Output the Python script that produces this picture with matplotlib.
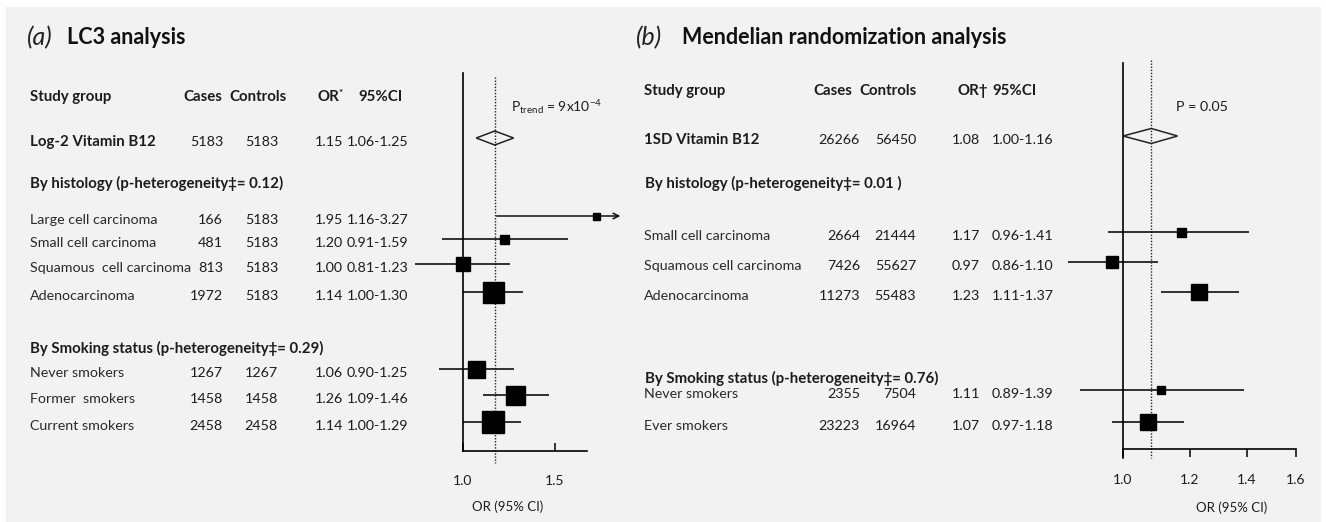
import numpy as np
import matplotlib
matplotlib.use('Agg')
import matplotlib.pyplot as plt
from matplotlib.patches import Rectangle, Polygon
from matplotlib.ticker import NullLocator, FixedLocator, FixedFormatter

plt.rcParams['font.family'] = ['Lato', 'DejaVu Sans']
plt.rcParams['mathtext.fontset'] = 'custom'
plt.rcParams['mathtext.rm'] = 'Lato'
plt.rcParams['mathtext.it'] = 'Lato:italic'

# ----------------- Data -----------------

# (a) LC3 analysis
a_hist_head = 'By histology (p-heterogeneity\u2021= 0.12)'
a_smok_head = 'By Smoking status (p-heterogeneity\u2021= 0.29)'
a_groups = ['Log-2 Vitamin B12', 'Large cell carcinoma', 'Small cell carcinoma',
            'Squamous  cell carcinoma', 'Adenocarcinoma',
            'Never smokers', 'Former  smokers', 'Current smokers']
a_cases = [5183, 166, 481, 813, 1972, 1267, 1458, 2458]
a_controls = [5183, 5183, 5183, 5183, 5183, 1267, 1458, 2458]
a_or = [1.15, 1.95, 1.20, 1.00, 1.14, 1.06, 1.26, 1.14]
a_lo = [1.06, 1.16, 0.91, 0.81, 1.00, 0.90, 1.09, 1.00]
a_hi = [1.25, 3.27, 1.59, 1.23, 1.30, 1.25, 1.46, 1.29]
a_ticks = [1.0, 1.5]
a_ptext = r'P$_{\mathrm{trend}}$ = 9x10$^{-4}$'

# (b) Mendelian randomization analysis
b_hist_head = 'By histology (p-heterogeneity\u2021= 0.01 )'
b_smok_head = 'By Smoking status (p-heterogeneity\u2021= 0.76)'
b_groups = ['1SD Vitamin B12', 'Small cell carcinoma', 'Squamous cell carcinoma',
            'Adenocarcinoma', 'Never smokers', 'Ever smokers']
b_cases = [26266, 2664, 7426, 11273, 2355, 23223]
b_controls = [56450, 21444, 55627, 55483, 7504, 16964]
b_or = [1.08, 1.17, 0.97, 1.23, 1.11, 1.07]
b_lo = [1.00, 0.96, 0.86, 1.11, 0.89, 0.97]
b_hi = [1.16, 1.41, 1.10, 1.37, 1.39, 1.18]
b_ticks = [1.0, 1.2, 1.4, 1.6]
b_ptext = 'P = 0.05'

# ----------------- Layout (pixels) -----------------
W, H = 1326, 522
TXT = '#1c1c1c'
FS = 10.3      # regular text
FSB = 10.8     # bold text

a_rows = [138, 216, 239, 264, 292, 369, 395, 422]     # first row is the pooled diamond
a_box = [0, 7, 9, 14, 21, 17, 19, 23]                  # box sizes in px
a_box_max = 1.80                                       # large cell box sits at the axis break
a_arrow_end = 2.0

b_rows = [136, 232, 262, 292, 390, 422]
b_box = [0, 9, 12, 16, 8, 16]

fig = plt.figure(figsize=(W / 100, H / 100), dpi=100)
fig.patch.set_facecolor('white')
fig.patches.append(Rectangle((6 / W, 0), (1320 - 6) / W, (H - 7) / H,
                             transform=fig.transFigure, color='#f2f2f2', zorder=-10))


def put(x, y, s, ha='left', size=FS, weight='normal', **kw):
    fig.text(x / W, 1 - y / H, s, ha=ha, va='center', size=size,
             weight=weight, color=kw.pop('color', TXT), **kw)


def forest_axes(left_px, right_px, one_px, px_per_ln):
    ax = fig.add_axes([left_px / W, 0, (right_px - left_px) / W, 1])
    ax.set_xscale('log')
    ax.set_xlim(np.exp((left_px - one_px) / px_per_ln),
                np.exp((right_px - one_px) / px_per_ln))
    ax.set_ylim(H, 0)
    ax.patch.set_alpha(0)
    for s in ['top', 'right']:
        ax.spines[s].set_visible(False)
    ax.yaxis.set_major_locator(NullLocator())
    ax.yaxis.set_minor_locator(NullLocator())
    ax.xaxis.set_minor_locator(NullLocator())
    return ax


def draw_diamond(ax, o, lo, hi, y, h=7):
    ax.add_patch(Polygon([(lo, y), (o, y - h), (hi, y), (o, y + h)], closed=True,
                         facecolor='none', edgecolor='#222222', lw=1.1, zorder=3))


# ----------------- Panel (a) -----------------
put(27, 38, '(a)', size=18, style='italic', color='#222222')
put(67, 38, 'LC3 analysis', size=15.5, weight='bold', color='#111111')

hy = 97
put(30, hy, 'Study group', size=FSB, weight='bold')
put(183, hy, 'Cases', size=FSB, weight='bold')
put(229, hy, 'Controls', size=FSB, weight='bold')
put(318, hy, 'OR', size=FSB, weight='bold')
put(339, hy - 4, '*', size=7, weight='bold')
put(358, hy, '95%CI', size=FSB, weight='bold')

put(30, 183, a_hist_head, size=FSB, weight='bold')
put(30, 348, a_smok_head, size=FSB, weight='bold')

for i, g in enumerate(a_groups):
    ty = a_rows[i] + 4
    if i == 0:
        put(30, ty, g, size=FSB, weight='bold')
    else:
        put(30, ty, g, color='#2a2a2a')
    put(223, ty, str(a_cases[i]), ha='right')
    put(278, ty, str(a_controls[i]), ha='right')
    put(343, ty, f'{a_or[i]:.2f}', ha='right')
    put(347, ty, f'{a_lo[i]:.2f}-{a_hi[i]:.2f}')

axa = forest_axes(400, 640, 463, 227)
axa.spines['bottom'].set_position(('data', 451))
axa.spines['bottom'].set_bounds(1.0, 1.73)
axa.spines['left'].set_position(('data', 1.0))
axa.spines['left'].set_bounds(73, 451)
axa.xaxis.set_major_locator(FixedLocator(a_ticks))
axa.xaxis.set_major_formatter(FixedFormatter([f'{t:.1f}' for t in a_ticks]))
axa.tick_params(axis='x', direction='in', length=6, width=1.1, pad=17,
                labelsize=10, labelcolor=TXT)
for s in ['bottom', 'left']:
    axa.spines[s].set_linewidth(1.2)

axa.vlines(a_or[0], 77, 463, colors='#222222', linestyles=(0, (1.0, 1.2)), lw=1.0, zorder=2)
draw_diamond(axa, a_or[0], a_lo[0], a_hi[0], a_rows[0])
for i in range(1, len(a_groups)):
    y = a_rows[i]
    if a_hi[i] > a_arrow_end:
        axa.annotate('', xy=(a_arrow_end, y), xytext=(a_lo[i], y),
                     arrowprops=dict(arrowstyle='->', lw=1.1, color='#111111',
                                     shrinkA=0, shrinkB=0))
    else:
        axa.hlines(y, a_lo[i], a_hi[i], colors='#111111', lw=1.2)
    axa.plot(min(a_or[i], a_box_max), y, marker='s', ms=a_box[i] * 0.72,
             color='black', mec='black', zorder=4)

put(511, 107, a_ptext, size=10)
put(508, 507, 'OR (95% CI)', ha='center', size=9.5)

# ----------------- Panel (b) -----------------
put(636, 38, '(b)', size=18, style='italic', color='#222222')
put(682, 38, 'Mendelian randomization analysis', size=15.5, weight='bold', color='#111111')

hy = 91
put(644, hy, 'Study group', size=FSB, weight='bold')
put(813, hy, 'Cases', size=FSB, weight='bold')
put(859, hy, 'Controls', size=FSB, weight='bold')
put(957, hy, 'OR\u2020', size=FSB, weight='bold')
put(992, hy, '95%CI', size=FSB, weight='bold')

put(645, 183, b_hist_head, size=FSB, weight='bold')
put(645, 378, b_smok_head, size=FSB, weight='bold')

for i, g in enumerate(b_groups):
    ty = b_rows[i] + 4
    if i == 0:
        put(644, ty, g, size=FSB, weight='bold')
    else:
        put(644, ty, g, color='#2a2a2a')
    put(860, ty, str(b_cases[i]), ha='right')
    put(916, ty, str(b_controls[i]), ha='right')
    put(952, ty, f'{b_or[i]:.2f}')
    put(992, ty, f'{b_lo[i]:.2f}-{b_hi[i]:.2f}')

axb = forest_axes(1050, 1320, 1123, 367.5)
axb.spines['bottom'].set_position(('data', 449))
axb.spines['bottom'].set_bounds(1.0, 1.6)
axb.spines['left'].set_position(('data', 1.0))
axb.spines['left'].set_bounds(63, 458)
axb.xaxis.set_major_locator(FixedLocator(b_ticks))
axb.xaxis.set_major_formatter(FixedFormatter([f'{t:.1f}' for t in b_ticks]))
axb.tick_params(axis='x', direction='out', length=6, width=1.1, pad=12,
                labelsize=10, labelcolor=TXT)
for s in ['bottom', 'left']:
    axb.spines[s].set_linewidth(1.2)

axb.vlines(b_or[0], 60, 458, colors='#222222', linestyles=(0, (1.0, 1.2)), lw=1.0, zorder=2)
draw_diamond(axb, b_or[0], b_lo[0], b_hi[0], b_rows[0], h=7.5)
for i in range(1, len(b_groups)):
    y = b_rows[i]
    axb.hlines(y, b_lo[i], b_hi[i], colors='#111111', lw=1.2)
    axb.plot(b_or[i], y, marker='s', ms=b_box[i] * 0.72,
             color='black', mec='black', zorder=4)

put(1176, 107, b_ptext)
put(1232, 508, 'OR (95% CI)', ha='center', size=9.5)

fig.savefig('out.png', dpi=100, facecolor=fig.get_facecolor())
